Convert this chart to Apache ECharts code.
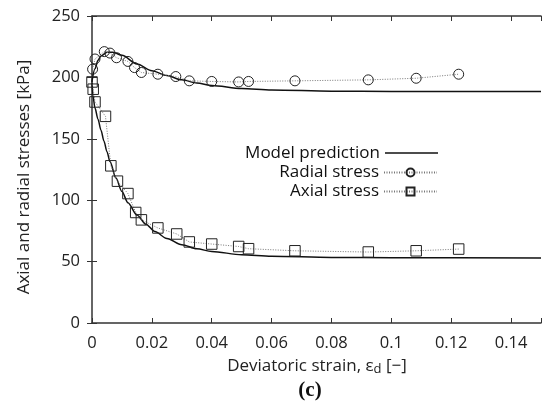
<!DOCTYPE html>
<html>
<head>
<meta charset="utf-8">
<script src="https://cdn.jsdelivr.net/npm/echarts@6/dist/echarts.min.js"></script>
<style>
html,body{margin:0;padding:0;background:#fff;}
#c{width:544px;height:419px;}
</style>
</head>
<body>
<div id="c"></div>
<script>
// ---- data ----
var radialStrain = [0.0002, 0.001, 0.0041, 0.006, 0.0082, 0.012, 0.0142, 0.0165, 0.022, 0.028, 0.0325, 0.040, 0.049, 0.0523, 0.0678, 0.0923, 0.1083, 0.1225];
var radialStress = [206.7, 215, 221, 219.8, 216, 213, 208, 204, 202.6, 200.7, 197.2, 196.7, 196.3, 196.7, 197.2, 198, 199.3, 202.6];

var axialStrain = [0, 0.0004, 0.001, 0.0045, 0.0063, 0.0085, 0.012, 0.0146, 0.0165, 0.022, 0.0283, 0.0325, 0.040, 0.049, 0.0523, 0.0678, 0.0923, 0.1083, 0.1225];
var axialStress = [196.3, 190.4, 180, 168.3, 128, 115.5, 105.4, 90, 84, 77.4, 72.5, 66, 64.3, 62.3, 60.5, 58.8, 57.8, 58.8, 60.2];

var modelRadialStrain = [0, 0.001, 0.002, 0.003, 0.005, 0.007, 0.01, 0.015, 0.02, 0.025, 0.03, 0.035, 0.04, 0.05, 0.06, 0.08, 0.1, 0.15];
var modelRadialStress = [197, 207, 214, 217.5, 220.5, 220.5, 218, 211, 205.5, 201.5, 198, 195.5, 193.5, 191, 189.8, 188.8, 188.5, 188.5];

var modelAxialStrain = [0, 0.0003, 0.001, 0.002, 0.003, 0.004, 0.005, 0.006, 0.008, 0.01, 0.012, 0.015, 0.018, 0.021, 0.025, 0.03, 0.035, 0.04, 0.05, 0.06, 0.08, 0.1, 0.15];
var modelAxialStress = [197, 185, 175, 166, 157, 148, 139.5, 131.5, 118, 107, 98, 88, 80.5, 74.5, 68.8, 63.8, 60.5, 58.2, 55.6, 54.3, 53.4, 53.1, 53];

var xTicks = [0, 0.02, 0.04, 0.06, 0.08, 0.1, 0.12, 0.14];
var yTicks = [0, 50, 100, 150, 200, 250];

var legendNames = ['Model prediction', 'Radial stress', 'Axial stress'];
var xTitle = 'Deviatoric strain, ε{sub|d} [−]';
var yTitle = 'Axial and radial stresses [kPa]';
var panelLabel = '(c)';

function pairs(xs, ys) { return xs.map(function (x, i) { return [x, ys[i]]; }); }

var FONT = 'Open Sans';
var axisCol = '#333';

var chart = echarts.init(document.getElementById('c'), null, {renderer: 'canvas'});

var baseX = {
  type: 'value', min: 0, max: 0.15, interval: 0.02,
  axisLine: {show: true, onZero: false, lineStyle: {color: axisCol, width: 1.5}},
  axisTick: {show: true, inside: true, length: 5, lineStyle: {color: axisCol, width: 1}},
  splitLine: {show: false}
};
var baseY = {
  type: 'value', min: 0, max: 250, interval: 50,
  axisLine: {show: true, onZero: false, lineStyle: {color: axisCol, width: 1.5}},
  axisTick: {show: true, inside: true, length: 5, lineStyle: {color: axisCol, width: 1}},
  splitLine: {show: false}
};

var legendCommon = {
  align: 'right', orient: 'vertical', right: 106,
  itemGap: 0, padding: 0, selectedMode: false,
  textStyle: {fontFamily: FONT, fontSize: 17, color: '#111'}
};

var option = {
  animation: false,
  backgroundColor: '#fff',
  grid: {left: 92, right: -2, top: 16, bottom: 96, containLabel: false},
  xAxis: [
    Object.assign({}, baseX, {
      position: 'bottom',
      axisLabel: {show: true, margin: 12, color: '#222', fontFamily: FONT, fontSize: 16.5,
        formatter: function (v) { return xTicks.indexOf(Math.round(v * 100) / 100) >= 0 ? String(Math.round(v * 100) / 100) : ''; }}
    }),
    Object.assign({}, baseX, {position: 'top', axisLabel: {show: false}})
  ],
  yAxis: [
    Object.assign({}, baseY, {
      position: 'left',
      axisLabel: {show: true, margin: 12, color: '#222', fontFamily: FONT, fontSize: 16.5,
        formatter: function (v) { return yTicks.indexOf(v) >= 0 ? String(v) : ''; }}
    }),
    Object.assign({}, baseY, {position: 'right', axisLabel: {show: false}, axisLine: {show: false}})
  ],
  legend: [
    Object.assign({}, legendCommon, {data: [{name: legendNames[0], icon: 'rect'}], top: 144.5, itemWidth: 53, itemHeight: 1.6}),
    Object.assign({}, legendCommon, {data: [legendNames[1]], top: 164, itemWidth: 53, itemHeight: 10}),
    Object.assign({}, legendCommon, {data: [legendNames[2]], top: 183, itemWidth: 53, itemHeight: 10})
  ],
  graphic: [
    {type: 'text', x: 24, y: 177, rotation: Math.PI / 2,
      style: {text: yTitle, font: '17px "Open Sans"', fill: '#222', textAlign: 'center', textVerticalAlign: 'middle'}},
    {type: 'text', x: 317, y: 366,
      style: {
        text: xTitle, fill: '#222', textAlign: 'center', textVerticalAlign: 'middle',
        font: '17px "Open Sans"',
        rich: {sub: {fontFamily: FONT, fontSize: 13, verticalAlign: 'bottom', padding: [7, 0, 0, 0], fill: '#222'}}
      }},
    {type: 'text', x: 310, y: 391,
      style: {text: panelLabel, font: 'bold 21px "Liberation Serif"', fill: '#111', textAlign: 'center', textVerticalAlign: 'middle'}}
  ],
  series: [
    {
      name: legendNames[0], type: 'line', xAxisIndex: 0, yAxisIndex: 0,
      data: pairs(modelRadialStrain, modelRadialStress),
      smooth: 0.3, smoothMonotone: 'x', showSymbol: false, symbol: 'none',
      lineStyle: {color: '#111', width: 1.5}, itemStyle: {color: '#111'}, z: 3
    },
    {
      name: legendNames[0], type: 'line', xAxisIndex: 0, yAxisIndex: 0,
      data: pairs(modelAxialStrain, modelAxialStress),
      smooth: 0.3, smoothMonotone: 'x', showSymbol: false, symbol: 'none',
      lineStyle: {color: '#111', width: 1.5}, itemStyle: {color: '#111'}, z: 3
    },
    {
      name: legendNames[1], type: 'line', xAxisIndex: 0, yAxisIndex: 0,
      data: pairs(radialStrain, radialStress),
      symbol: 'circle', symbolSize: 10,
      lineStyle: {color: '#777', width: 1, type: [1, 1.5]},
      itemStyle: {color: 'rgba(255,255,255,0)', borderColor: '#222', borderWidth: 1}, z: 4
    },
    {
      name: legendNames[2], type: 'line', xAxisIndex: 0, yAxisIndex: 0,
      data: pairs(axialStrain, axialStress),
      symbol: 'rect', symbolSize: 10.5,
      lineStyle: {color: '#777', width: 1, type: [1, 1.5]},
      itemStyle: {color: 'rgba(255,255,255,0)', borderColor: '#222', borderWidth: 1}, z: 4
    }
  ]
};
chart.setOption(option);
</script>
</body>
</html>
